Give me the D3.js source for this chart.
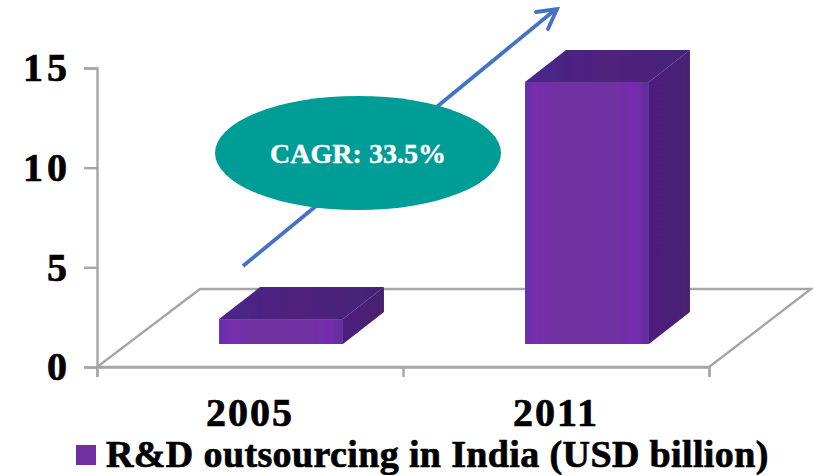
<!DOCTYPE html>
<html>
<head>
<meta charset="utf-8">
<script src="https://cdn.jsdelivr.net/npm/d3@7"></script>
<style>
  html, body { margin: 0; padding: 0; background: #fff; }
  text { font-family: "Liberation Serif", serif; font-weight: bold; fill: #000; stroke: #000; stroke-width: 0.7px; }
</style>
</head>
<body>
<div id="chart"></div>
<script>
const categories = ["2005", "2011"];
const values = [1.25, 13.15];
const yTicks = [0, 5, 10, 15];
const legendLabel = "R&D outsourcing in India (USD billion)";
const cagrLabel = "CAGR: 33.5%";

const width = 813, height = 475;
const x0 = 97, x1 = 709, y0 = 367, yTop = 68;
// oblique offset of the floor, and of the bars sitting on it
const floorDx = 102, floorDy = -78;
const gapDx = 31, gapDy = -23;
const barDx = 41, barDy = -32;

const svg = d3.select("#chart").append("svg")
    .attr("width", width)
    .attr("height", height)
    .style("display", "block");

const defs = svg.append("defs");
const soft = defs.append("filter").attr("id", "soft");
soft.append("feGaussianBlur").attr("stdDeviation", 0.7);

const front = defs.append("linearGradient").attr("id", "front");
[[0, "#6a2eaa"], [0.1, "#752fac"], [0.3, "#6f30a0"], [0.75, "#7030a2"], [0.88, "#762cae"], [1, "#5e309a"]]
    .forEach(s => front.append("stop").attr("offset", s[0]).attr("stop-color", s[1]));
const top3d = defs.append("linearGradient").attr("id", "top3d");
[[0, "#48278a"], [0.5, "#50217c"], [1, "#452078"]]
    .forEach(s => top3d.append("stop").attr("offset", s[0]).attr("stop-color", s[1]));
const side = defs.append("linearGradient").attr("id", "side");
[[0, "#4e1f80"], [1, "#47206f"]]
    .forEach(s => side.append("stop").attr("offset", s[0]).attr("stop-color", s[1]));

const x = d3.scaleBand().domain(categories).range([x0, x1]);
const y = d3.scaleLinear().domain([0, 15]).range([y0, yTop]);
const barW = x.bandwidth() * 0.405;
const barLeft = d => x(d) + (x.bandwidth() - barW) / 2 + gapDx;
const barBase = y0 + gapDy;
const barH = v => y(0) - y(v);

// floor
const poly = pts => pts.map(p => p.join(",")).join(" ");
svg.append("polygon")
    .attr("points", poly([[x0, y0], [x1, y0], [x1 + floorDx, y0 + floorDy], [x0 + floorDx + 1, y0 + floorDy]]))
    .attr("fill", "#fff")
    .attr("stroke", "#a6a6a6")
    .attr("stroke-width", 2.4)
    .attr("filter", "url(#soft)");

// axes
const yAxis = d3.axisLeft(y).tickValues(yTicks).tickSize(13).tickPadding(13);
const gy = svg.append("g").attr("transform", `translate(${x0},0)`).call(yAxis);
const xBounds = d3.scaleLinear().domain([0, 2]).range([x0, x1]);
svg.append("g").attr("transform", `translate(0,${y0})`)
    .call(d3.axisBottom(xBounds).tickValues([0, 1, 2]).tickSize(10).tickFormat(""));
const gx = svg.append("g").attr("transform", `translate(0,${y0})`)
    .call(d3.axisBottom(x).tickSize(0).tickPadding(31));
gx.select(".domain").remove();
svg.selectAll(".domain, .tick line").attr("stroke", "#a6a6a6").attr("stroke-width", 2.4);
gy.selectAll("text").style("font-size", "40px").attr("dy", "0.32em").attr("letter-spacing", 4);
gx.selectAll("text").style("font-size", "40px").attr("letter-spacing", 2);

// bars: front, top and side faces
const bars = svg.append("g").attr("filter", "url(#soft)")
    .selectAll("g").data(categories.map((c, i) => ({c, v: values[i]}))).enter().append("g");
bars.append("polygon")
    .attr("fill", "url(#top3d)")
    .attr("points", d => {
        const l = barLeft(d.c), t = barBase - barH(d.v);
        return poly([[l, t], [l + barW, t], [l + barW + barDx, t + barDy], [l + barDx, t + barDy]]);
    });
bars.append("polygon")
    .attr("fill", "url(#side)")
    .attr("points", d => {
        const r = barLeft(d.c) + barW, t = barBase - barH(d.v);
        return poly([[r, t], [r + barDx, t + barDy], [r + barDx, barBase + barDy], [r, barBase]]);
    });
bars.append("rect")
    .attr("fill", "url(#front)")
    .attr("x", d => barLeft(d.c))
    .attr("y", d => barBase - barH(d.v))
    .attr("width", barW)
    .attr("height", d => barH(d.v));

// growth arrow
const blue = "#4472c4";
svg.append("line")
    .attr("x1", 243).attr("y1", 266).attr("x2", 556).attr("y2", 9)
    .attr("stroke", blue).attr("stroke-width", 3.8);
svg.append("polyline")
    .attr("points", poly([[536, 12], [557, 9], [548, 29]]))
    .attr("fill", "none").attr("stroke", blue).attr("stroke-width", 3.8)
    .attr("stroke-linecap", "round").attr("stroke-linejoin", "miter");

// CAGR bubble
svg.append("ellipse")
    .attr("cx", 358).attr("cy", 153).attr("rx", 143).attr("ry", 57)
    .attr("fill", "#009c96");
svg.append("text")
    .attr("x", 358).attr("y", 153).attr("dy", "0.34em")
    .attr("text-anchor", "middle")
    .style("font-size", "28px")
    .style("fill", "#fff")
    .style("stroke", "#fff")
    .style("stroke-width", "0.4px")
    .text(cagrLabel);

// legend
svg.append("rect")
    .attr("x", 76).attr("y", 445).attr("width", 20).attr("height", 20)
    .attr("fill", "#7030a0");
svg.append("text")
    .attr("x", 106).attr("y", 467)
    .style("font-size", "38px")
    .attr("letter-spacing", 0.37)
    .text(legendLabel);
</script>
</body>
</html>
